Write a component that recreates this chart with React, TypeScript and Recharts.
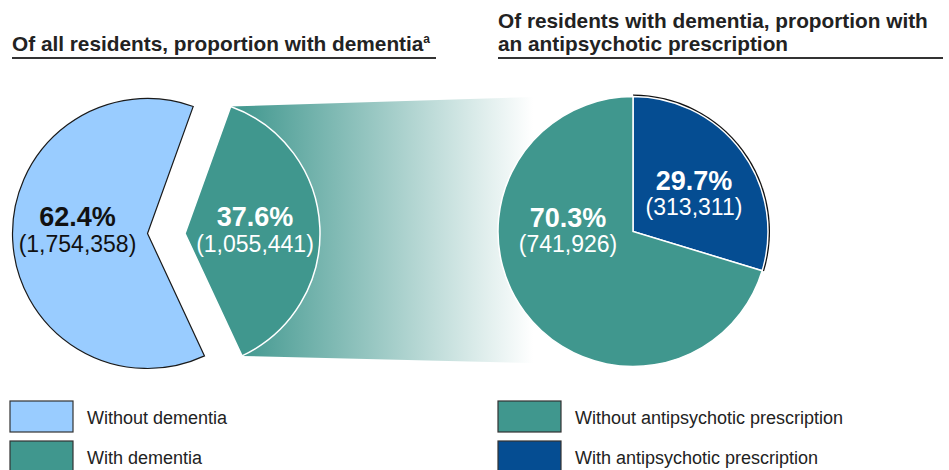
import React from 'react';
import { PieChart, Pie, Cell } from 'recharts';

// Nursing home residents: dementia share, then antipsychotic share among those with dementia

const DEMENTIA_NAMES = ['Without dementia', 'With dementia'];
const DEMENTIA_COUNTS = [1754358, 1055441];
const DEMENTIA_COLORS = ['#99ccff', '#40978e'];

const RX_NAMES = ['Without antipsychotic prescription', 'With antipsychotic prescription'];
const RX_COUNTS = [741926, 313311];
const RX_COLORS = ['#40978e', '#054d92'];

const LEFT_TITLE = 'Of all residents, proportion with dementia';
const RIGHT_TITLE = ['Of residents with dementia, proportion with', 'an antipsychotic prescription'];

const FONT = '"Liberation Sans", Arial, sans-serif';
const W = 949;
const H = 470;
const R = 135;

// pie geometry
const LEFT_CX = 147.5;
const EXPLODED_CX = 185;
const LEFT_CY = 233.5;
const LEFT_START = 70.2;
const RIGHT_CX = 633;
const RIGHT_CY = 231.5;

// label placement relative to each pie centre: [dx, dy of % line, dy of count line]
const LABEL_OFFSET: Record<string, number[]> = {
  'Without dementia': [-70, -7.5, 18],
  'With dementia': [70, -7.5, 18],
  'Without antipsychotic prescription': [-65, -5, 20],
  'With antipsychotic prescription': [61, -41.5, -16.5],
};

const total = (a: number[]) => a.reduce((s, v) => s + v, 0);
const fmtPct = (v: number, t: number) => `${((v / t) * 100).toFixed(1)}%`;
const fmtCount = (v: number) => `(${v.toLocaleString('en-US')})`;

// pies start with the highlighted slice, going clockwise
const dementiaData = [1, 0].map((i) => ({
  name: DEMENTIA_NAMES[i],
  value: DEMENTIA_COUNTS[i],
  color: DEMENTIA_COLORS[i],
  pct: fmtPct(DEMENTIA_COUNTS[i], total(DEMENTIA_COUNTS)),
}));
const rxData = [1, 0].map((i) => ({
  name: RX_NAMES[i],
  value: RX_COUNTS[i],
  color: RX_COLORS[i],
  pct: fmtPct(RX_COUNTS[i], total(RX_COUNTS)),
}));

function makeLabel(only: string, dark: boolean) {
  return (props: any) => {
    const name = props.name ?? props.payload?.name;
    if (name !== only) return null;
    const p = props.payload?.payload ?? props.payload ?? {};
    const [dx, dy1, dy2] = LABEL_OFFSET[name];
    const x = props.cx + dx;
    const fill = dark ? '#111' : '#fff';
    return (
      <g>
        <text x={x} y={props.cy + dy1} textAnchor="middle" fontSize={27} fontWeight="bold" fill={fill} fontFamily={FONT}>
          {p.pct}
        </text>
        <text x={x} y={props.cy + dy2} textAnchor="middle" fontSize={23} fill={fill} fontFamily={FONT}>
          {fmtCount(props.value)}
        </text>
      </g>
    );
  };
}

function Backdrop() {
  // gradient band linking the exploded slice to the second pie
  const a1 = (LEFT_START * Math.PI) / 180;
  const withShare = DEMENTIA_COUNTS[1] / total(DEMENTIA_COUNTS);
  const a2 = ((LEFT_START - withShare * 360) * Math.PI) / 180;
  const top = [EXPLODED_CX + R * Math.cos(a1), LEFT_CY - R * Math.sin(a1)];
  const bot = [EXPLODED_CX + R * Math.cos(a2), LEFT_CY - R * Math.sin(a2)];
  const endX = 533;
  const pts = `${top[0]},${top[1]} ${endX},97 ${endX},363 ${bot[0]},${bot[1]}`;

  const legend = (names: string[], colors: string[], x0: number) =>
    names.map((n, i) => (
      <g key={n}>
        <rect x={x0} y={401 + i * 40} width={63} height={31} fill={colors[i]} stroke="#333" strokeWidth={1.2} />
        <text x={x0 + 77} y={424 + i * 39.5} fontSize={18} fill="#222" fontFamily={FONT}>
          {n}
        </text>
      </g>
    ));

  return (
    <svg width={W} height={H} style={{ position: 'absolute', left: 0, top: 0 }}>
      <defs>
        <linearGradient id="band" gradientUnits="userSpaceOnUse" x1={236} y1={0} x2={endX} y2={0}>
          <stop offset="0%" stopColor="#40978e" />
          <stop offset="100%" stopColor="#ffffff" />
        </linearGradient>
      </defs>
      <polygon points={pts} fill="url(#band)" />

      <text x={12} y={51} fontSize={20.8} fontWeight="bold" fill="#222" fontFamily={FONT}>
        {LEFT_TITLE}
        <tspan fontSize={12} dy={-8}>a</tspan>
      </text>
      <line x1={12} y1={58} x2={436} y2={58} stroke="#333" strokeWidth={1.8} />

      {RIGHT_TITLE.map((t, i) => (
        <text key={t} x={498} y={28 + i * 23} fontSize={20.8} fontWeight="bold" fill="#222" fontFamily={FONT}>
          {t}
        </text>
      ))}
      <line x1={498} y1={58} x2={943} y2={58} stroke="#333" strokeWidth={1.8} />

      {legend(DEMENTIA_NAMES, DEMENTIA_COLORS, 10)}
      {legend(RX_NAMES, RX_COLORS, 498)}
    </svg>
  );
}

export default function App() {
  const leftEnd = LEFT_START - 360;
  return (
    <div style={{ position: 'absolute', left: 0, top: 0, width: W, height: H, background: '#fff' }}>
      <Backdrop />
      <div style={{ position: 'absolute', left: 0, top: 0 }}>
        <PieChart width={W} height={H} margin={{ top: 0, right: 0, bottom: 0, left: 0 }}>
          {/* remaining share of residents, drawn at the main centre */}
          <Pie
            data={dementiaData}
            dataKey="value"
            cx={LEFT_CX}
            cy={LEFT_CY}
            outerRadius={R}
            startAngle={LEFT_START}
            endAngle={leftEnd}
            labelLine={false}
            label={makeLabel('Without dementia', true)}
            isAnimationActive={false}
          >
            {dementiaData.map((d) => (
              <Cell
                key={d.name}
                fill={d.name === 'Without dementia' ? d.color : 'none'}
                stroke={d.name === 'Without dementia' ? '#1a1a1a' : 'none'}
                strokeWidth={1.2}
              />
            ))}
          </Pie>
          {/* exploded dementia slice */}
          <Pie
            data={dementiaData}
            dataKey="value"
            cx={EXPLODED_CX}
            cy={LEFT_CY}
            outerRadius={R}
            startAngle={LEFT_START}
            endAngle={leftEnd}
            labelLine={false}
            label={makeLabel('With dementia', false)}
            isAnimationActive={false}
          >
            {dementiaData.map((d) => (
              <Cell
                key={d.name}
                fill={d.name === 'With dementia' ? d.color : 'none'}
                stroke={d.name === 'With dementia' ? '#fff' : 'none'}
                strokeWidth={1.5}
              />
            ))}
          </Pie>

          {/* dark rim behind the prescription slice */}
          <Pie
            data={rxData}
            dataKey="value"
            cx={RIGHT_CX}
            cy={RIGHT_CY}
            outerRadius={R + 2}
            startAngle={90}
            endAngle={-270}
            isAnimationActive={false}
          >
            {rxData.map((d, i) => (
              <Cell key={d.name} fill={i === 0 ? '#111' : 'none'} stroke="none" />
            ))}
          </Pie>
          <Pie
            data={rxData}
            dataKey="value"
            cx={RIGHT_CX}
            cy={RIGHT_CY}
            outerRadius={R}
            startAngle={90}
            endAngle={-270}
            labelLine={false}
            label={(p: any) => {
              const name = p.name ?? p.payload?.name;
              return makeLabel(name, false)(p);
            }}
            isAnimationActive={false}
          >
            {rxData.map((d) => (
              <Cell key={d.name} fill={d.color} stroke="#fff" strokeWidth={1.5} />
            ))}
          </Pie>
        </PieChart>
      </div>
    </div>
  );
}
